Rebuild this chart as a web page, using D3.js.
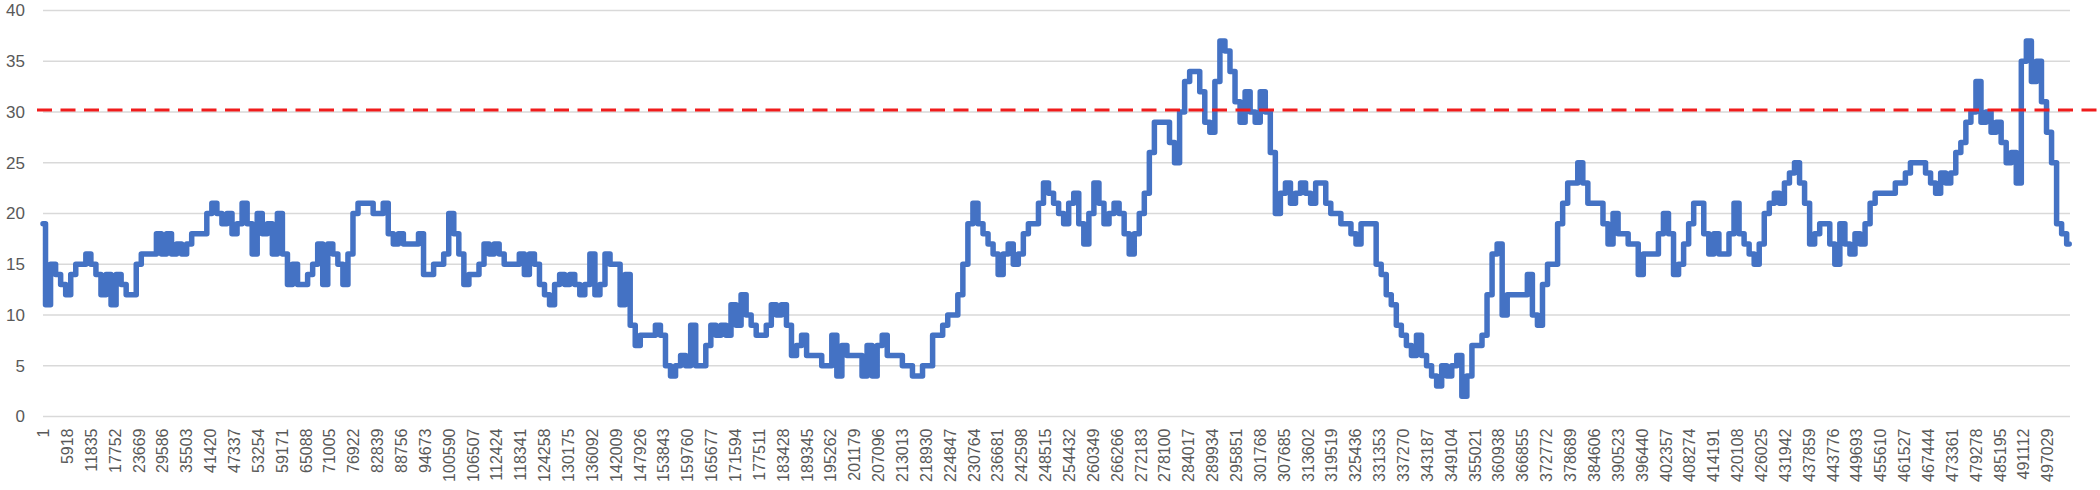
<!DOCTYPE html>
<html>
<head>
<meta charset="utf-8">
<script src="https://cdn.jsdelivr.net/npm/d3@7"></script>
<style>
  html, body { margin: 0; padding: 0; background: #fff; }
  svg { display: block; font-family: "Liberation Sans", Arial, sans-serif; }
</style>
</head>
<body>
<div id="chart"></div>
<script>
// x is a category axis running from point 1 to pointCount
var pointCount = 502700;
var sampleStep = 1250;
var seriesValues = [
  19,11,15,14,13,12,14,15,15,16, 15,14,12,14,11,14,13,12,12,15,
  16,16,16,18,16,18,16,17,16,17, 18,18,18,20,21,20,19,20,18,19,
  21,19,16,20,18,19,16,20,16,13, 15,13,
  13,14,15,17,13,17,16,15,13,16, 20,21,21,21,20,20,21,18,17,18,
  17,17,17,18,14,14,15,15,16,20, 18,16,13,14,14,15,17,16,17,16,
  15,15,15,16,
  14,16,15,13,12,11,13,14,13,14, 13,12,13,16,12,13,16,15,15,11,
  14,9,7,8,8,8,9,8,5,4, 5,6,5,9,5,5,7,9,8,9,
  8,11,9,12,10,9,8,
  8,9,11,10,11,9,6,7,8,6, 6,6,5,5,8,4,7,6,6,6,
  4,7,4,7,8,6,6,6,5,5, 4,4,5,5,8,8,9,10,10,12,
  15,19,21,19,18,17,16,
  14,16,17,15,16,18,19,19,21,23, 22,21,20,19,21,22,19,17,20,23,
  21,19,20,21,20,18,16,18,20,22, 26,29,29,29,27,25,30,33,34,34,
  32,29,28,33,37,36,34,31,
  29,32,30,29,32,30,26,20,22,23, 21,22,23,22,21,23,23,21,20,20,
  19,19,18,17,19,19,19,15,14,12, 11,9,8,7,6,8,6,5,4,3,
  5,4,5,6,2,4,7,
  7,8,12,16,17,10,12,12,12,12, 14,10,9,13,15,15,19,21,23,23,
  25,23,21,21,21,19,17,20,18,18, 17,17,14,16,16,16,18,20,18,14,
  15,17,19,21,21,18,16,18,
  16,16,18,21,18,17,16,15,17,20, 21,22,21,23,24,25,23,21,17,18,
  19,19,17,15,19,17,16,18,17,19, 21,22,22,22,22,23,
  23,24,25,25,25,24,23,22,24,23, 24,26,27,29,30,33,29,30,28,29,
  27,25,26,23,35,37,33,35,31,28, 25,19,18,17
];
var tickLabels = [
  1,5918,11835,17752,23669,29586,35503,41420,47337,53254,59171,65088,71005,
  76922,82839,88756,94673,100590,106507,112424,118341,124258,130175,136092,
  142009,147926,153843,159760,165677,171594,177511,183428,189345,195262,
  201179,207096,213013,218930,224847,230764,236681,242598,248515,254432,
  260349,266266,272183,278100,284017,289934,295851,301768,307685,313602,
  319519,325436,331353,337270,343187,349104,355021,360938,366855,372772,
  378689,384606,390523,396440,402357,408274,414191,420108,426025,431942,
  437859,443776,449693,455610,461527,467444,473361,479278,485195,491112,497029
];
var yTicks = [0, 5, 10, 15, 20, 25, 30, 35, 40];
var limitValue = 30.2;

var svgWidth = 2100, svgHeight = 490;
var plotLeft = 43, plotRight = 2070, plotTop = 10.5, plotBottom = 416.5;

var svg = d3.select("#chart").append("svg")
  .attr("width", svgWidth)
  .attr("height", svgHeight);

var x = d3.scaleLinear()
  .domain([0.5, pointCount + 0.5])
  .range([plotLeft, plotRight]);

var y = d3.scaleLinear()
  .domain([0, 40])
  .range([plotBottom, plotTop]);

// horizontal gridlines
svg.append("g")
  .selectAll("line")
  .data(yTicks)
  .enter()
  .append("line")
  .attr("x1", plotLeft)
  .attr("x2", plotRight)
  .attr("y1", d => y(d))
  .attr("y2", d => y(d))
  .attr("stroke", "#d9d9d9")
  .attr("stroke-width", 1.5);

// y axis labels
var yAxis = svg.append("g")
  .attr("transform", `translate(${plotLeft}, 0)`)
  .call(d3.axisLeft(y).tickValues(yTicks).tickSize(0).tickPadding(18));
yAxis.select(".domain").remove();
yAxis.selectAll("text")
  .attr("fill", "#595959")
  .attr("font-size", "17px")
  .attr("font-family", "Liberation Sans, Arial, sans-serif");

// x axis labels, rotated
var xAxis = svg.append("g")
  .attr("transform", `translate(0, ${plotBottom})`)
  .call(d3.axisBottom(x).tickValues(tickLabels).tickSize(0).tickFormat(d => d));
xAxis.select(".domain").remove();
xAxis.selectAll("text")
  .attr("fill", "#595959")
  .attr("font-size", "16px")
  .attr("font-family", "Liberation Sans, Arial, sans-serif")
  .attr("transform", "rotate(-90)")
  .attr("text-anchor", "end")
  .attr("x", -12)
  .attr("y", 0)
  .attr("dy", "0.35em");

// the series
var points = seriesValues.map((v, i) => [1 + i * sampleStep, v]);

var line = d3.line()
  .x(d => x(d[0]))
  .y(d => y(d[1]))
  .curve(d3.curveStep);

svg.append("path")
  .datum(points)
  .attr("fill", "none")
  .attr("stroke", "#4472c4")
  .attr("stroke-width", 5.5)
  .attr("stroke-linejoin", "round")
  .attr("stroke-linecap", "round")
  .attr("d", line);

// red dashed limit line
svg.append("line")
  .attr("x1", 37)
  .attr("x2", svgWidth)
  .attr("y1", y(limitValue))
  .attr("y2", y(limitValue))
  .attr("stroke", "#f01c1c")
  .attr("stroke-width", 3)
  .attr("stroke-dasharray", "15,8.5");
</script>
</body>
</html>
